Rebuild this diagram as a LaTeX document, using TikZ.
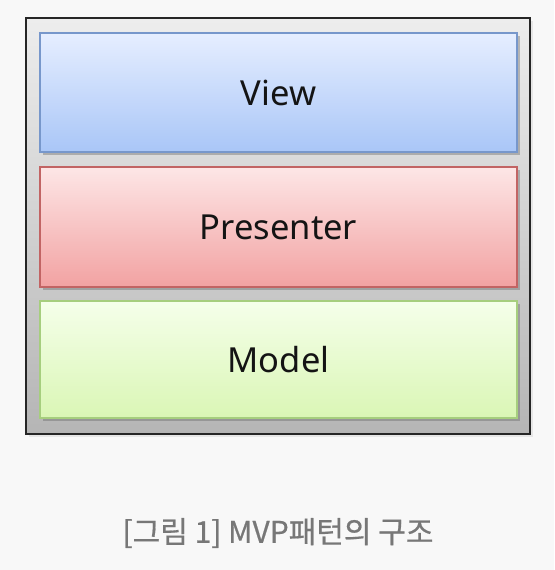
\documentclass[tikz,border=0pt]{standalone}
\usepackage{fontspec}
\setmainfont{Noto Sans}
\newfontfamily\krfont[FakeBold=0.6]{Noto Sans CJK KR}
\usetikzlibrary{shadows}
\definecolor{bgc}{HTML}{F8F8F8}
\definecolor{viewtop}{HTML}{E6EEFF}
\definecolor{viewbot}{HTML}{A9C6F7}
\definecolor{viewline}{HTML}{7797CB}
\definecolor{prestop}{HTML}{FDE6E6}
\definecolor{presbot}{HTML}{F2A2A2}
\definecolor{presline}{HTML}{C26464}
\definecolor{modtop}{HTML}{F5FFEA}
\definecolor{modbot}{HTML}{DAF6B5}
\definecolor{modline}{HTML}{A6CE7E}
\definecolor{captc}{HTML}{777777}
\tikzset{
  layerbox/.style={draw, line width=1.4pt, minimum width=477pt, inner sep=0pt,
    font=\fontsize{34.5}{40}\selectfont, text=black!92,
    drop shadow={shadow xshift=2.5pt, shadow yshift=-3pt, opacity=0.4, fill=black!60}},
  frame/.style={draw=black!85, line width=2pt, top color=black!7, bottom color=black!29,
    minimum width=504pt, minimum height=416pt, inner sep=0pt,
    drop shadow={shadow xshift=3pt, shadow yshift=-3pt, opacity=0.15}},
  capt/.style={text=captc, font=\krfont\fontsize{30}{35}\selectfont}
}
\begin{document}
\begin{tikzpicture}[x=1pt,y=-1pt]
\fill[bgc] (0,0) rectangle (554,570);
\useasboundingbox (0,0) rectangle (554,570);
\node[frame] (outer) at (278,226) {};
\node[layerbox, draw=viewline, top color=viewtop, bottom color=viewbot, minimum height=119pt] (view) at (278.5,92.5) {View};
\node[layerbox, draw=presline, top color=prestop, bottom color=presbot, minimum height=120pt] (presenter) at (278.5,227) {Presenter};
\node[layerbox, draw=modline, top color=modtop, bottom color=modbot, minimum height=117pt] (model) at (278.5,359.5) {Model};
\node[capt] (caption) at (278,533) {[그림 1] MVP패턴의 구조};
\end{tikzpicture}
\end{document}
